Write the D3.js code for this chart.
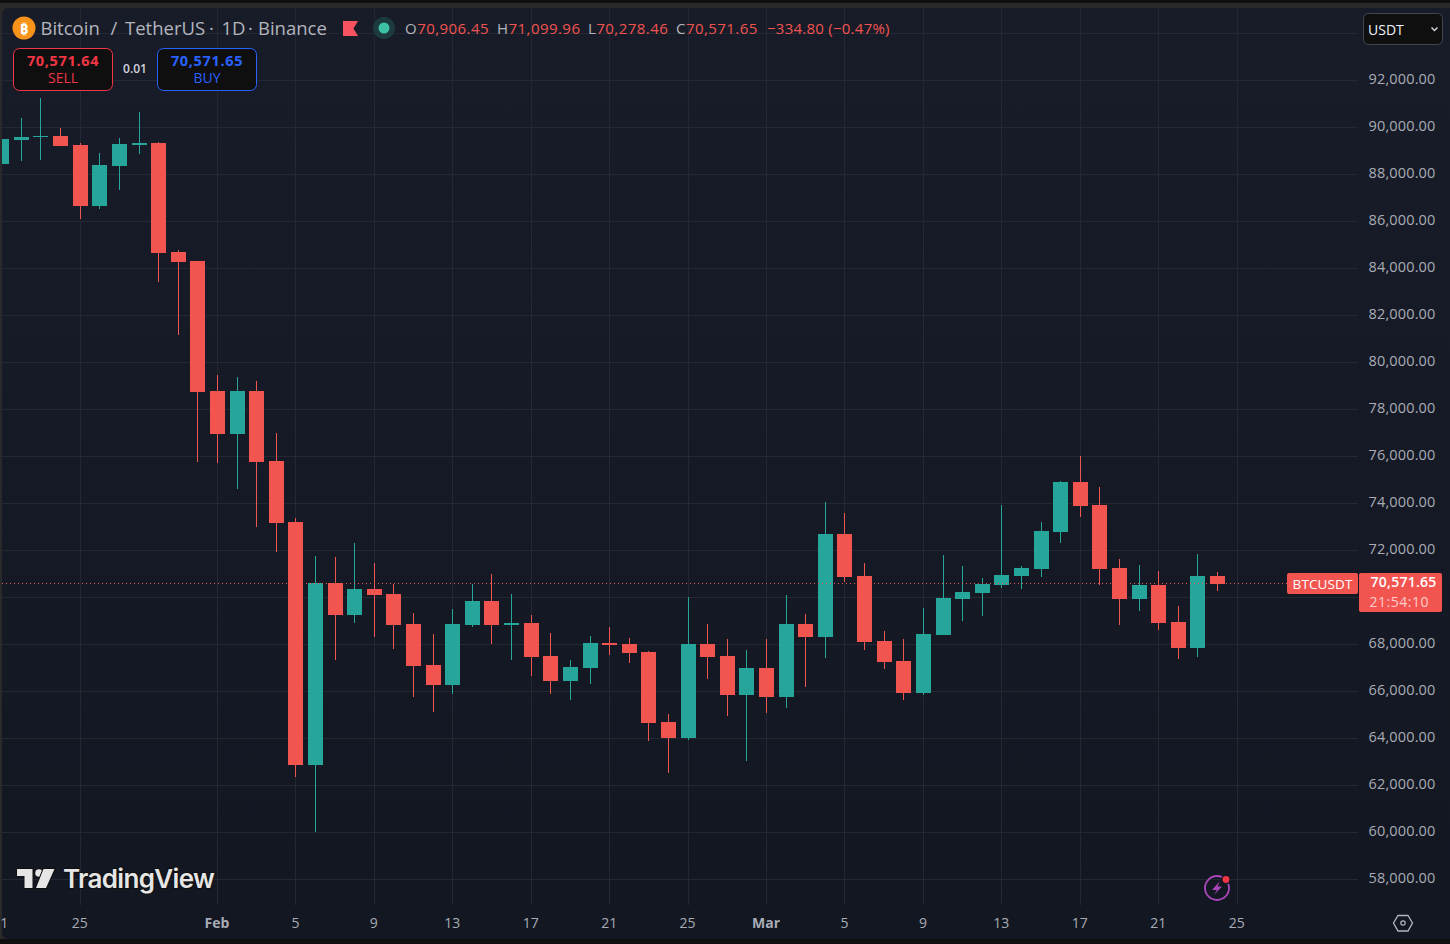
<!DOCTYPE html>
<html>
<head>
<meta charset="utf-8">
<title>BTCUSDT</title>
<script src="https://cdn.jsdelivr.net/npm/d3@7"></script>
<style>
html,body{margin:0;padding:0;background:#0f0f0f;overflow:hidden;}
svg{display:block;}
text{font-family:"Open Sans","Noto Sans",sans-serif;}
</style>
</head>
<body>
<svg id="chart" width="1450" height="944"></svg>
<script>
var firstDay = "2026-01-21";

var opens = [88450,89470,89600,89640,89260,86660,88360,89260,89340,84700,84320,78790,76960,78790,75810,73210,62870,70620,69260,70360,70150,68870,67130,66280,68830,69850,68830,68910,67510,66450,67000,68060,68020,67680,64700,64020,68020,67510,65850,67000,65770,68870,68320,72700,70910,68150,67300,65940,68400,69940,70190,70530,70910,71210,72790,74920,73940,71260,69940,70530,68960,67850,70906.45];
var highs = [89510,90400,91260,89980,89340,88910,89550,90660,89380,84790,84320,79470,79380,79210,77000,73380,71770,71720,72320,71470,70570,69340,68450,69510,70570,71000,70150,69260,68490,67340,68360,68740,68280,67720,65040,70020,68870,68230,67770,68230,70110,69300,74060,73600,71470,68570,68230,69550,71810,71340,70830,73940,71340,73210,74960,76020,74700,71640,71380,71130,69640,71850,71099.96];
var lows = [88450,88570,88620,89210,86110,86530,87340,88870,83430,81170,75770,75720,74620,73000,71940,62360,60020,67340,68910,68320,67810,65770,65130,65890,68740,68020,67340,66660,65890,65640,66320,67550,67210,63890,62530,63940,66530,64960,63040,65090,65300,66190,67430,70660,67770,66960,65640,65850,68400,69000,69210,70400,70360,70870,72320,73430,70530,68830,69430,68620,67380,67470,70278.46];
var closes = [89510,89600,89640,89210,86660,88400,89300,89340,84660,84280,78740,76960,78790,75770,73170,62870,70620,69260,70360,70110,68830,67090,66280,68870,69850,68830,68910,67470,66450,67040,68060,67980,67640,64660,64020,68020,67470,65850,67000,65770,68870,68320,72700,70870,68110,67260,65940,68450,69980,70230,70570,70960,71260,72830,74920,73890,71210,69940,70530,68910,67850,70910,70571.65];

var priceTicks = [58000,60000,62000,64000,66000,68000,70000,72000,74000,76000,78000,80000,82000,84000,86000,88000,90000,92000];
var timeDays = ["2026-01-21","2026-01-25","2026-02-01","2026-02-05","2026-02-09","2026-02-13","2026-02-17","2026-02-21","2026-02-25","2026-03-01","2026-03-05","2026-03-09","2026-03-13","2026-03-17","2026-03-21","2026-03-25"];
var timeLabels = ["1","25","Feb","5","9","13","17","21","25","Mar","5","9","13","17","21","25"];

var titleParts = ["Bitcoin","/","TetherUS","·","1D","·","Binance"];
var titleX = [40.5,110.5,125,209,221.5,248,258];
var legendParts = [["O","70,906.45"],["H","71,099.96"],["L","70,278.46"],["C","70,571.65"]];
var legendX = [405,497,588,676];

var UP = "#26a69a", DOWN = "#f25450", LABEL = "#a9acb5", GRID = "#242832";

(function(){

	var parseDay = d3.utcParse("%Y-%m-%d");
	var fmtPrice = d3.format(",.2f");

	var svg = d3.select("#chart");
	var defs = svg.append("defs");

	var grad = defs.append("linearGradient").attr("id","panel-bg").attr("x1",0).attr("x2",0).attr("y1",0).attr("y2",1);
	grad.append("stop").attr("offset","0%").attr("stop-color","#181c28");
	grad.append("stop").attr("offset","100%").attr("stop-color","#121722");

	// panes clip candles to the left border and stop the grid at the price scale
	defs.append("clipPath").attr("id","plot-clip").append("rect").attr("x",2).attr("y",8).attr("width",1356).attr("height",897);

	// frame
	svg.append("rect").attr("width",1450).attr("height",944).attr("fill","#0f0f0f");
	svg.append("rect").attr("y",3).attr("width",1450).attr("height",936).attr("fill","#2a2a2a");
	svg.append("rect").attr("x",2).attr("y",8).attr("width",1460).attr("height",931).attr("rx",6).attr("fill","url(#panel-bg)");

	var y = d3.scaleLinear().domain([60000,92000]).range([832.5,80.5]);
	var x = d3.scaleUtc().domain([parseDay(firstDay), parseDay("2026-03-24")]).range([1.74,1217.56]);

	var dayX = function(i){
		return Math.floor(x(d3.utcDay.offset(parseDay(firstDay), i)));
	};
	var snapY = function(v){return Math.round(y(v))};

	var plot = svg.append("g").attr("clip-path","url(#plot-clip)");

	// grid
	var gridY = priceTicks.concat([94000]);
	plot.append("g").selectAll("line").data(gridY).enter().append("line")
		.attr("x1",2).attr("x2",1358)
		.attr("y1",function(d){return Math.floor(y(d))+0.5})
		.attr("y2",function(d){return Math.floor(y(d))+0.5})
		.attr("stroke",GRID).attr("stroke-width",1);
	plot.append("g").selectAll("line").data(timeDays).enter().append("line")
		.attr("y1",8).attr("y2",905)
		.attr("x1",function(d){return Math.floor(x(parseDay(d)))+0.5})
		.attr("x2",function(d){return Math.floor(x(parseDay(d)))+0.5})
		.attr("stroke",GRID).attr("stroke-width",1);

	// candles
	var candles = plot.append("g").selectAll("g").data(opens).enter().append("g")
		.attr("fill",function(d,i){return closes[i] >= d ? UP : DOWN});
	candles.append("rect")
		.attr("x",function(d,i){return dayX(i)})
		.attr("width",1)
		.attr("y",function(d,i){return snapY(highs[i])})
		.attr("height",function(d,i){return snapY(lows[i]) - snapY(highs[i])});
	candles.append("rect")
		.attr("x",function(d,i){return dayX(i)-7})
		.attr("width",15)
		.attr("y",function(d,i){return Math.min(snapY(d),snapY(closes[i]))})
		.attr("height",function(d,i){return Math.max(1,Math.abs(snapY(d)-snapY(closes[i])))});

	// last price line
	var lastPrice = closes[closes.length-1];
	var lastY = Math.floor(y(lastPrice)) - 0.5;
	svg.append("line").attr("x1",2).attr("x2",1287).attr("y1",lastY).attr("y2",lastY)
		.attr("stroke",DOWN).attr("stroke-width",1).attr("stroke-dasharray","1 3")
		.style("shape-rendering","crispEdges");

	// price scale, the label under the last price tag is dropped
	var labelTicks = priceTicks.filter(function(d){return Math.abs(y(d)-592) > 22});
	var yAxis = d3.axisRight(y).tickValues(labelTicks).tickFormat(fmtPrice).tickSize(0).offset(0);
	var yG = svg.append("g").attr("transform","translate(1369,-1)").call(yAxis);
	yG.select(".domain").remove();
	yG.selectAll("text").attr("x",66.5).attr("text-anchor","end").attr("fill",LABEL)
		.style("font-size","14.5px").style("letter-spacing","0.15px");

	// time scale
	var xAxis = d3.axisBottom(x).tickValues(timeDays.map(parseDay)).tickFormat(function(d,i){return timeLabels[i]}).tickSize(0).offset(0);
	var xG = svg.append("g").attr("transform","translate(-0.5,910)").call(xAxis);
	xG.select(".domain").remove();
	xG.selectAll("text").attr("y",8).attr("dy","0.71em").attr("fill",LABEL).style("font-size","14px")
		.attr("dx",function(d,i){return i===0 ? 3 : 0})
		.style("font-weight",function(d,i){return isNaN(+timeLabels[i]) ? 700 : 400});

	// header
	var head = svg.append("g");
	head.append("circle").attr("cx",24).attr("cy",28).attr("r",11.5).attr("fill","#f7931a");
	head.append("text").attr("x",24).attr("y",33.5).attr("text-anchor","middle").attr("fill","#fff")
		.style("font-size","15px").style("font-weight",700).text("₿");
	head.selectAll("text.title").data(titleParts).enter().append("text").attr("class","title")
		.attr("x",function(d,i){return titleX[i]}).attr("y",35).attr("fill","#b2b5be")
		.style("font-size","18.5px").text(function(d){return d});

	head.append("path").attr("d",d3.line()([[343,21],[358,21],[353.5,28.5],[358,36],[343,36]])+"Z").attr("fill","#f7525f");
	head.append("circle").attr("cx",384).attr("cy",28).attr("r",11).attr("fill","#1c3b3f");
	head.append("circle").attr("cx",384).attr("cy",28).attr("r",5.5).attr("fill","#3dc2a6");

	legendParts.forEach(function(p,i){
		var t = head.append("text").attr("x",legendX[i]).attr("y",34).style("font-size","15px").style("letter-spacing","0.45px");
		t.append("tspan").attr("fill","#b2b5be").text(p[0]);
		t.append("tspan").attr("fill",DOWN).text(p[1]);
	});
	head.append("text").attr("x",767).attr("y",34).attr("fill",DOWN).style("font-size","15px").style("letter-spacing","0.25px").text("−334.80 (−0.47%)");

	// order buttons
	var buttons = [
		{x:13, price:"70,571.64", side:"SELL", color:"#f23645"},
		{x:157, price:"70,571.65", side:"BUY", color:"#2962ff"}
	];
	var btn = svg.append("g").selectAll("g").data(buttons).enter().append("g")
		.attr("transform",function(d){return "translate("+d.x+",48)"});
	btn.append("rect").attr("x",0.5).attr("y",0.5).attr("width",99).attr("height",42).attr("rx",6)
		.attr("fill","#0f0f0f").attr("stroke",function(d){return d.color});
	btn.append("text").attr("x",50).attr("y",18).attr("text-anchor","middle").attr("fill",function(d){return d.color})
		.style("font-size","14.5px").style("font-weight",700).style("letter-spacing","0.65px").text(function(d){return d.price});
	btn.append("text").attr("x",50).attr("y",35).attr("text-anchor","middle").attr("fill",function(d){return d.color})
		.style("font-size","14px").text(function(d){return d.side});
	svg.append("text").attr("x",135).attr("y",73).attr("text-anchor","middle").attr("fill","#d1d4dc")
		.style("font-size","12px").style("font-weight",600).text("0.01");

	// currency select
	svg.append("rect").attr("x",1363.5).attr("y",13.5).attr("width",79).attr("height",31).attr("rx",5)
		.attr("fill","#0f0f0f").attr("stroke","#434651");
	svg.append("text").attr("x",1368).attr("y",35).attr("fill","#f0f3fa").style("font-size","14px").text("USDT");
	svg.append("path").attr("d",d3.line()([[1431.5,27.5],[1434.5,30.5],[1437.5,27.5]])).attr("fill","none")
		.attr("stroke","#d1d4dc").attr("stroke-width",1.5);

	// last price tags
	svg.append("rect").attr("x",1287).attr("y",573).attr("width",71).attr("height",21).attr("rx",2).attr("fill",DOWN);
	svg.append("text").attr("x",1322.5).attr("y",588.5).attr("text-anchor","middle").attr("fill","#fff")
		.style("font-size","13.5px").style("letter-spacing","0.1px").text("BTCUSDT");
	svg.append("rect").attr("x",1359).attr("y",573).attr("width",83).attr("height",39).attr("rx",2).attr("fill",DOWN);
	svg.append("text").attr("x",1436.5).attr("y",587.3).attr("text-anchor","end").attr("fill","#fff")
		.style("font-size","14px").style("font-weight",600).style("letter-spacing","0.25px").text(fmtPrice(lastPrice));
	svg.append("text").attr("x",1429).attr("y",606.5).attr("text-anchor","end").attr("fill","#fbcccb")
		.style("font-size","14px").style("letter-spacing","0.5px").text("21:54:10");

	// watermark
	var logo = svg.append("g").attr("fill","#e6e6e6").attr("stroke","#0f0f0f").attr("stroke-width",2).style("paint-order","stroke");
	logo.append("path").attr("d",d3.line()([[17,869],[32.5,869],[32.5,888],[24.5,888],[24.5,876],[17,876]])+"Z");
	logo.append("circle").attr("cx",39).attr("cy",873).attr("r",3.8);
	logo.append("path").attr("d",d3.line()([[43.5,869],[54.5,869],[46,888],[36,888]])+"Z");
	logo.append("text").attr("x",63).attr("y",887.5).style("font-size","26px").style("font-weight",600)
		.style("font-family","Inter,'Open Sans',sans-serif").style("letter-spacing","-0.65px").text("TradingView");

	// lightning badge
	svg.append("circle").attr("cx",1217).attr("cy",888).attr("r",12).attr("fill","none").attr("stroke","#ab47bc").attr("stroke-width",1.8);
	svg.append("path").attr("d",d3.line()([[1220,881],[1212,890],[1217,890],[1214,895],[1222,886.5],[1217.5,886.5]])+"Z")
		.attr("fill","#ab47bc");
	svg.append("circle").attr("cx",1226).attr("cy",879.5).attr("r",4.2).attr("fill","#f23645").attr("stroke","#131722").attr("stroke-width",1.5);

	// settings hexagon
	svg.append("path").attr("d",d3.line()([[1398,915.5],[1408,915.5],[1412.5,923],[1408,931],[1398,931],[1393.5,923]])+"Z")
		.attr("fill","none").attr("stroke","#b2b5be").attr("stroke-width",1.3);
	svg.append("circle").attr("cx",1403).attr("cy",923).attr("r",2.2).attr("fill","none").attr("stroke","#b2b5be").attr("stroke-width",1.2);

})();
</script>
</body>
</html>
